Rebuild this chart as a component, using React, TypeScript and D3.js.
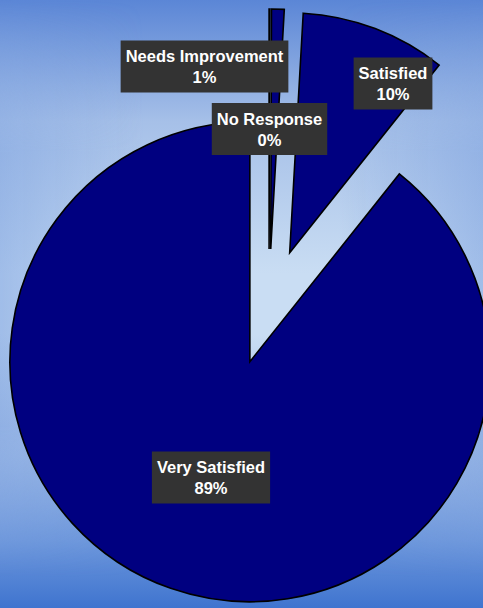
import React from "react";
import * as d3 from "d3";

// ---- data ----
const categories = ["No Response", "Needs Improvement", "Satisfied", "Very Satisfied"];
const values = [0.05, 0.85, 9.8, 89.3];
const percentLabels = ["0%", "1%", "10%", "89%"];

// ---- layout ----
const W = 483;
const H = 608;
const CX = 269;
const CY = 307;
const R = 240;
const EXPLODE = 58;
// label box centers (manually placed, as in the original)
const labelCenters: [number, number][] = [
  [269.5, 129],
  [204.5, 66.5],
  [393, 83.5],
  [211, 477.5],
];
const FONT_SIZE = 16.5;
const FONT = `bold ${FONT_SIZE}px "Liberation Sans", Arial, sans-serif`;

function measure(text: string): number {
  if (typeof document === "undefined") return text.length * 9;
  const c = document.createElement("canvas");
  const ctx = c.getContext("2d");
  if (!ctx) return text.length * 9;
  ctx.font = FONT;
  return ctx.measureText(text).width;
}

export default function App() {
  const data = categories.map((c, i) => ({ name: c, value: values[i], pct: percentLabels[i] }));
  const pie = d3
    .pie<{ name: string; value: number; pct: string }>()
    .sort(null)
    .value((d) => d.value)
    .startAngle(0)
    .endAngle(2 * Math.PI);
  const arcs = pie(data);
  const arcGen = d3
    .arc<d3.PieArcDatum<{ name: string; value: number; pct: string }>>()
    .innerRadius(0)
    .outerRadius(R);

  return (
    <svg
      width={W}
      height={H}
      style={{ position: "fixed", left: 0, top: 0, display: "block" }}
      xmlns="http://www.w3.org/2000/svg"
    >
      <defs>
        <linearGradient id="bg" x1="0" y1="0" x2="0" y2="1">
          <stop offset="0" stopColor="#5b86d6" />
          <stop offset="0.2" stopColor="#a6c0e8" />
          <stop offset="0.45" stopColor="#c9ddf3" />
          <stop offset="0.55" stopColor="#c9ddf3" />
          <stop offset="0.75" stopColor="#9cb9e6" />
          <stop offset="0.89" stopColor="#6d97dc" />
          <stop offset="1" stopColor="#3f74cf" />
        </linearGradient>
        <linearGradient id="side" x1="0" y1="0" x2="1" y2="0">
          <stop offset="0" stopColor="#7fa3e0" stopOpacity="0.55" />
          <stop offset="0.3" stopColor="#7fa3e0" stopOpacity="0" />
          <stop offset="0.7" stopColor="#7fa3e0" stopOpacity="0" />
          <stop offset="1" stopColor="#7fa3e0" stopOpacity="0.55" />
        </linearGradient>
        <linearGradient id="vfade" x1="0" y1="0" x2="0" y2="1">
          <stop offset="0" stopColor="#fff" stopOpacity="0" />
          <stop offset="0.25" stopColor="#fff" stopOpacity="1" />
          <stop offset="0.7" stopColor="#fff" stopOpacity="1" />
          <stop offset="0.95" stopColor="#fff" stopOpacity="0" />
        </linearGradient>
        <mask id="vmask" maskUnits="userSpaceOnUse" x={0} y={0} width={W} height={H}>
          <rect x={0} y={0} width={W} height={H} fill="url(#vfade)" />
        </mask>
      </defs>
      <rect x={0} y={0} width={W} height={H} fill="url(#bg)" />
      <rect x={0} y={0} width={W} height={H} fill="url(#side)" mask="url(#vmask)" />
      <g transform={`translate(${CX},${CY})`}>
        {arcs.map((a, i) => {
          const mid = (a.startAngle + a.endAngle) / 2;
          const dx = EXPLODE * Math.sin(mid);
          const dy = -EXPLODE * Math.cos(mid);
          return (
            <path
              key={i}
              d={arcGen(a) || ""}
              transform={`translate(${dx},${dy})`}
              fill="#000080"
              stroke="#000000"
              strokeWidth={1.6}
              strokeLinejoin="miter"
            />
          );
        })}
      </g>
      {data.map((d, i) => {
        const [lx, ly] = labelCenters[i];
        const w = Math.max(measure(d.name), measure(d.pct)) + 10;
        const h = 52;
        return (
          <g key={i}>
            <rect x={lx - w / 2} y={ly - h / 2} width={w} height={h} fill="#333333" />
            <text
              x={lx}
              y={ly - 4.5}
              textAnchor="middle"
              fill="#ffffff"
              style={{ font: FONT }}
            >
              {d.name}
            </text>
            <text
              x={lx}
              y={ly + 16.5}
              textAnchor="middle"
              fill="#ffffff"
              style={{ font: FONT }}
            >
              {d.pct}
            </text>
          </g>
        );
      })}
    </svg>
  );
}
